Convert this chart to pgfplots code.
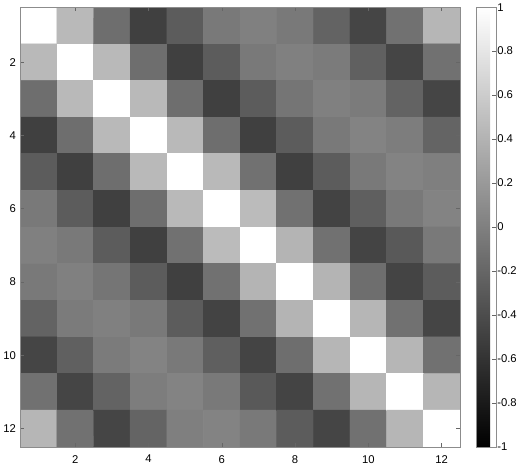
\documentclass[border=0pt]{standalone}
\usepackage{pgfplots}
\pgfplotsset{compat=1.18}
\usepackage{fontspec}
\setmainfont{Liberation Sans}
\begin{document}
\begin{tikzpicture}
\begin{axis}[
  scale only axis,
  width=449pt, height=449pt,
  xmin=0.5, xmax=12.5, ymin=0.5, ymax=12.5,
  y dir=reverse,
  xtick={2,4,...,12}, ytick={2,4,...,12},
  tick align=inside,
  major tick length=4pt,
  axis on top,
  axis line style={black!45},
  every tick/.style={black!60},
  tick label style={font=\fontsize{11.5}{13}\selectfont, /pgf/number format/assume math mode=true},
  xticklabel style={yshift=-5pt},
  yticklabel style={xshift=-1pt},
  colormap={gray}{gray(0cm)=(0); gray(1cm)=(1)},
  point meta min=-1, point meta max=1,
  colorbar,
  colorbar style={
    at={(parent axis.right of north east)}, anchor=north west, xshift=8pt,
    width=20pt,
    ytick={-1,-0.8,-0.6,-0.4,-0.2,0,0.2,0.4,0.6,0.8,1},
    ytick pos=right, yticklabel pos=right,
    tick align=inside, major tick length=4pt,
    axis line style={black!45},
    yticklabel style={font=\fontsize{11.5}{13}\selectfont, /pgf/number format/assume math mode=true,
      /pgf/number format/fixed, /pgf/number format/precision=1, xshift=-2pt},
  },
]
\addplot[matrix plot*, mesh/cols=12, point meta=explicit] coordinates {
(1,1)[1] (2,1)[0.44] (3,1)[-0.14] (4,1)[-0.50] (5,1)[-0.28] (6,1)[-0.06] (7,1)[0.00] (8,1)[-0.06] (9,1)[-0.23] (10,1)[-0.46] (11,1)[-0.12] (12,1)[0.42]

(1,2)[0.44] (2,2)[1] (3,2)[0.44] (4,2)[-0.14] (5,2)[-0.50] (6,2)[-0.28] (7,2)[-0.06] (8,2)[0.00] (9,2)[-0.04] (10,2)[-0.25] (11,2)[-0.46] (12,2)[-0.12]

(1,3)[-0.14] (2,3)[0.44] (3,3)[1] (4,3)[0.44] (5,3)[-0.14] (6,3)[-0.50] (7,3)[-0.28] (8,3)[-0.09] (9,3)[0.00] (10,3)[-0.04] (11,3)[-0.23] (12,3)[-0.46]

(1,4)[-0.50] (2,4)[-0.14] (3,4)[0.44] (4,4)[1] (5,4)[0.44] (6,4)[-0.14] (7,4)[-0.50] (8,4)[-0.28] (9,4)[-0.06] (10,4)[0.02] (11,4)[-0.03] (12,4)[-0.22]

(1,5)[-0.28] (2,5)[-0.50] (3,5)[-0.14] (4,5)[0.44] (5,5)[1] (6,5)[0.44] (7,5)[-0.12] (8,5)[-0.50] (9,5)[-0.28] (10,5)[-0.06] (11,5)[0.02] (12,5)[-0.01]

(1,6)[-0.06] (2,6)[-0.28] (3,6)[-0.50] (4,6)[-0.14] (5,6)[0.44] (6,6)[1] (7,6)[0.46] (8,6)[-0.12] (9,6)[-0.48] (10,6)[-0.26] (11,6)[-0.06] (12,6)[0.02]

(1,7)[0.00] (2,7)[-0.06] (3,7)[-0.28] (4,7)[-0.50] (5,7)[-0.12] (6,7)[0.46] (7,7)[1] (8,7)[0.40] (9,7)[-0.12] (10,7)[-0.47] (11,7)[-0.31] (12,7)[-0.06]

(1,8)[-0.06] (2,8)[0.00] (3,8)[-0.09] (4,8)[-0.28] (5,8)[-0.50] (6,8)[-0.12] (7,8)[0.40] (8,8)[1] (9,8)[0.40] (10,8)[-0.14] (11,8)[-0.47] (12,8)[-0.28]

(1,9)[-0.23] (2,9)[-0.04] (3,9)[0.00] (4,9)[-0.06] (5,9)[-0.28] (6,9)[-0.48] (7,9)[-0.12] (8,9)[0.40] (9,9)[1] (10,9)[0.42] (11,9)[-0.12] (12,9)[-0.46]

(1,10)[-0.46] (2,10)[-0.25] (3,10)[-0.04] (4,10)[0.02] (5,10)[-0.06] (6,10)[-0.26] (7,10)[-0.47] (8,10)[-0.14] (9,10)[0.42] (10,10)[1] (11,10)[0.42] (12,10)[-0.12]

(1,11)[-0.12] (2,11)[-0.46] (3,11)[-0.23] (4,11)[-0.03] (5,11)[0.02] (6,11)[-0.06] (7,11)[-0.31] (8,11)[-0.47] (9,11)[-0.12] (10,11)[0.42] (11,11)[1] (12,11)[0.42]

(1,12)[0.42] (2,12)[-0.12] (3,12)[-0.46] (4,12)[-0.22] (5,12)[-0.01] (6,12)[0.02] (7,12)[-0.06] (8,12)[-0.28] (9,12)[-0.46] (10,12)[-0.12] (11,12)[0.42] (12,12)[1]
};
\end{axis}
\end{tikzpicture}
\end{document}
